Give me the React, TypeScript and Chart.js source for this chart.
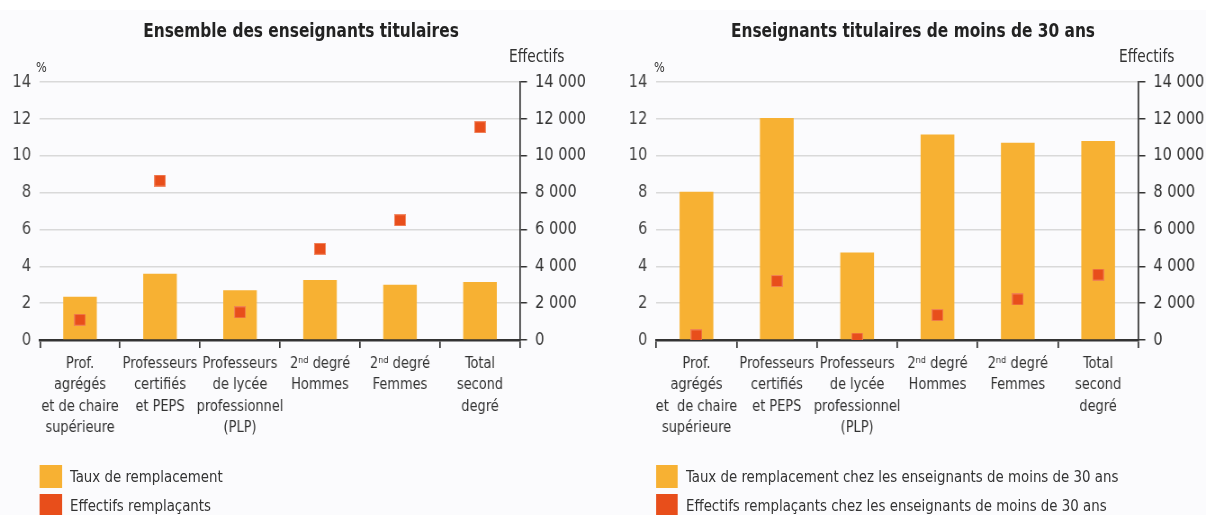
import React, { useEffect, useRef } from 'react';
import { Chart, registerables } from 'chart.js';

Chart.register(...registerables);

const FONT = '"DejaVu Sans Condensed", "DejaVu Sans", sans-serif';
const BAR_COLOR = '#f7b133';
const DOT_COLOR = '#e84e1b';
const SX = 0.9; // horizontal condensing applied to the whole figure
const L = (px: number) => px / SX;

const categoriesAll = [
  ['Prof.', 'agrégés', 'et de chaire', 'supérieure'],
  ['Professeurs', 'certifiés', 'et PEPS'],
  ['Professeurs', 'de lycée', 'professionnel', '(PLP)'],
  ['2ⁿᵈ degré', 'Hommes'],
  ['2ⁿᵈ degré', 'Femmes'],
  ['Total', 'second', 'degré'],
];
const categoriesYoung = [
  ['Prof.', 'agrégés', 'et  de chaire', 'supérieure'],
  ['Professeurs', 'certifiés', 'et PEPS'],
  ['Professeurs', 'de lycée', 'professionnel', '(PLP)'],
  ['2ⁿᵈ degré', 'Hommes'],
  ['2ⁿᵈ degré', 'Femmes'],
  ['Total', 'second', 'degré'],
];

const tauxAll = [2.35, 3.6, 2.7, 3.25, 3.0, 3.15];
const effectifsAll = [1100, 8650, 1500, 4950, 6500, 11550];
const tauxYoung = [8.05, 12.05, 4.75, 11.15, 10.7, 10.8];
const effectifsYoung = [250, 3200, 80, 1350, 2200, 3550];

const pctMax = 14;
const pctStep = 2;
const effMax = 14000;
const effStep = 2000;

const titleAll = 'Ensemble des enseignants titulaires';
const titleYoung = 'Enseignants titulaires de moins de 30 ans';
const legendAll = ['Taux de remplacement', 'Effectifs remplaçants'];
const legendYoung = [
  'Taux de remplacement chez les enseignants de moins de 30 ans',
  'Effectifs remplaçants chez les enseignants de moins de 30 ans',
];

const fmt = (v: number) => String(v).replace(/\B(?=(\d{3})+(?!\d))/g, ' ');

const CANVAS_H = 460;
const AXIS_Y = 340;

function makeDot() {
  const c = document.createElement('canvas');
  const w = Math.round(12 / SX);
  c.width = w;
  c.height = 12;
  const ctx = c.getContext('2d')!;
  ctx.fillStyle = 'rgba(240,125,85,0.9)';
  ctx.fillRect(0, 0, w, 12);
  ctx.fillStyle = DOT_COLOR;
  ctx.fillRect(1, 1, w - 2, 10);
  return c;
}

function Panel(props: {
  width: number;
  labels: string[][];
  taux: number[];
  eff: number[];
  yWidth: number;
  y1Width: number;
}) {
  const ref = useRef<HTMLCanvasElement>(null);
  useEffect(() => {
    if (!ref.current) return;
    const dot = makeDot();
    const chart = new Chart(ref.current, {
      type: 'bar',
      data: {
        labels: props.labels as any,
        datasets: [
          {
            type: 'line' as any,
            data: props.eff,
            yAxisID: 'y1',
            showLine: false,
            pointStyle: dot,
            pointRadius: 7,
            order: 0,
          } as any,
          {
            type: 'bar',
            data: props.taux,
            yAxisID: 'y',
            backgroundColor: BAR_COLOR,
            categoryPercentage: 1,
            barPercentage: 0.42,
            order: 1,
          },
        ],
      },
      options: {
        animation: false,
        responsive: false,
        layout: { padding: { top: 82, left: 0, right: 0, bottom: 0 } },
        plugins: {
          legend: { display: false },
          tooltip: { enabled: false },
          title: { display: false },
        },
        scales: {
          x: {
            offset: true,
            grid: {
              offset: true,
              drawOnChartArea: false,
              drawTicks: true,
              tickLength: 8,
              color: '#333',
              lineWidth: 1.7,
            },
            border: { display: true, color: '#333', width: 2.5 },
            ticks: {
              color: '#333',
              font: { family: FONT, size: 16, lineHeight: 1.34 },
              padding: 5,
              maxRotation: 0,
              minRotation: 0,
              autoSkip: false,
            },
            afterFit: (s: any) => {
              s.height = CANVAS_H - AXIS_Y;
            },
          },
          y: {
            position: 'left',
            min: 0,
            max: pctMax,
            ticks: {
              stepSize: pctStep,
              color: '#444',
              font: { family: FONT, size: 18 },
              padding: L(9),
            },
            grid: { color: '#d9d9d9', lineWidth: 1.5, drawTicks: false },
            border: { display: false },
            afterFit: (s: any) => {
              s.width = props.yWidth;
            },
          },
          y1: {
            position: 'right',
            min: 0,
            max: effMax,
            ticks: {
              stepSize: effStep,
              color: '#333',
              font: { family: FONT, size: 18 },
              padding: L(8),
              callback: (v: any) => fmt(Number(v)),
            },
            grid: {
              drawOnChartArea: false,
              drawTicks: true,
              tickLength: L(7),
              color: '#333',
              lineWidth: 1.5,
            },
            border: { display: true, color: '#333', width: 1.7 },
            afterFit: (s: any) => {
              s.width = props.y1Width;
            },
          },
        },
      } as any,
    });
    return () => chart.destroy();
  }, []);
  return <canvas ref={ref} width={props.width} height={CANVAS_H} style={{ display: 'block' }} />;
}

const textBase: React.CSSProperties = {
  position: 'absolute',
  fontFamily: FONT,
  color: '#333',
  whiteSpace: 'nowrap',
};

function Legend(props: { x: number; items: string[] }) {
  const colors = [BAR_COLOR, DOT_COLOR];
  const tops = [465, 494];
  return (
    <>
      {props.items.map((t, i) => (
        <React.Fragment key={i}>
          <div
            style={{
              position: 'absolute',
              left: L(props.x),
              top: tops[i],
              width: L(22),
              height: 23,
              background: colors[i],
            }}
          />
          <div
            style={{
              ...textBase,
              left: L(props.x + 30),
              top: tops[i] + 1,
              fontSize: 16.5,
              lineHeight: '22px',
            }}
          >
            {t}
          </div>
        </React.Fragment>
      ))}
    </>
  );
}

const LEFT_W = 667;
const RIGHT_W = 674;

export default function App() {
  return (
    <div
      style={{
        position: 'absolute',
        left: 0,
        top: 0,
        width: 1206,
        height: 515,
        background: '#ffffff',
        overflow: 'hidden',
      }}
    >
      <div
        style={{
          position: 'absolute',
          left: 0,
          top: 10,
          width: 1206,
          height: 505,
          background: '#fbfbfd',
        }}
      />
      <div
        style={{
          position: 'absolute',
          left: 0,
          top: 0,
          width: L(1206),
          height: 515,
          transform: `scaleX(${SX})`,
          transformOrigin: '0 0',
        }}
      >
        <div style={{ position: 'absolute', left: 0, top: 0 }}>
          <Panel
            width={LEFT_W}
            labels={categoriesAll}
            taux={tauxAll}
            eff={effectifsAll}
            yWidth={L(40)}
            y1Width={LEFT_W - L(40) - L(480)}
          />
        </div>
        <div style={{ position: 'absolute', left: L(600), top: 0 }}>
          <Panel
            width={RIGHT_W}
            labels={categoriesYoung}
            taux={tauxYoung}
            eff={effectifsYoung}
            yWidth={L(56)}
            y1Width={RIGHT_W - L(56) - L(482)}
          />
        </div>

        <div
          style={{
            ...textBase,
            left: L(301) - 400,
            width: 800,
            top: 17,
            textAlign: 'center',
            fontWeight: 'bold',
            fontSize: 19,
            lineHeight: '26px',
            color: '#222',
          }}
        >
          {titleAll}
        </div>
        <div
          style={{
            ...textBase,
            left: L(913) - 400,
            width: 800,
            top: 17,
            textAlign: 'center',
            fontWeight: 'bold',
            fontSize: 19,
            lineHeight: '26px',
            color: '#222',
          }}
        >
          {titleYoung}
        </div>

        <div style={{ ...textBase, left: L(36), top: 58, fontSize: 14, lineHeight: '18px' }}>%</div>
        <div style={{ ...textBase, left: L(654), top: 58, fontSize: 14, lineHeight: '18px' }}>%</div>
        <div style={{ ...textBase, left: L(509), top: 45, fontSize: 17, lineHeight: '22px' }}>Effectifs</div>
        <div style={{ ...textBase, left: L(1119), top: 45, fontSize: 17, lineHeight: '22px' }}>Effectifs</div>

        <Legend x={40} items={legendAll} />
        <Legend x={656} items={legendYoung} />
      </div>
    </div>
  );
}
